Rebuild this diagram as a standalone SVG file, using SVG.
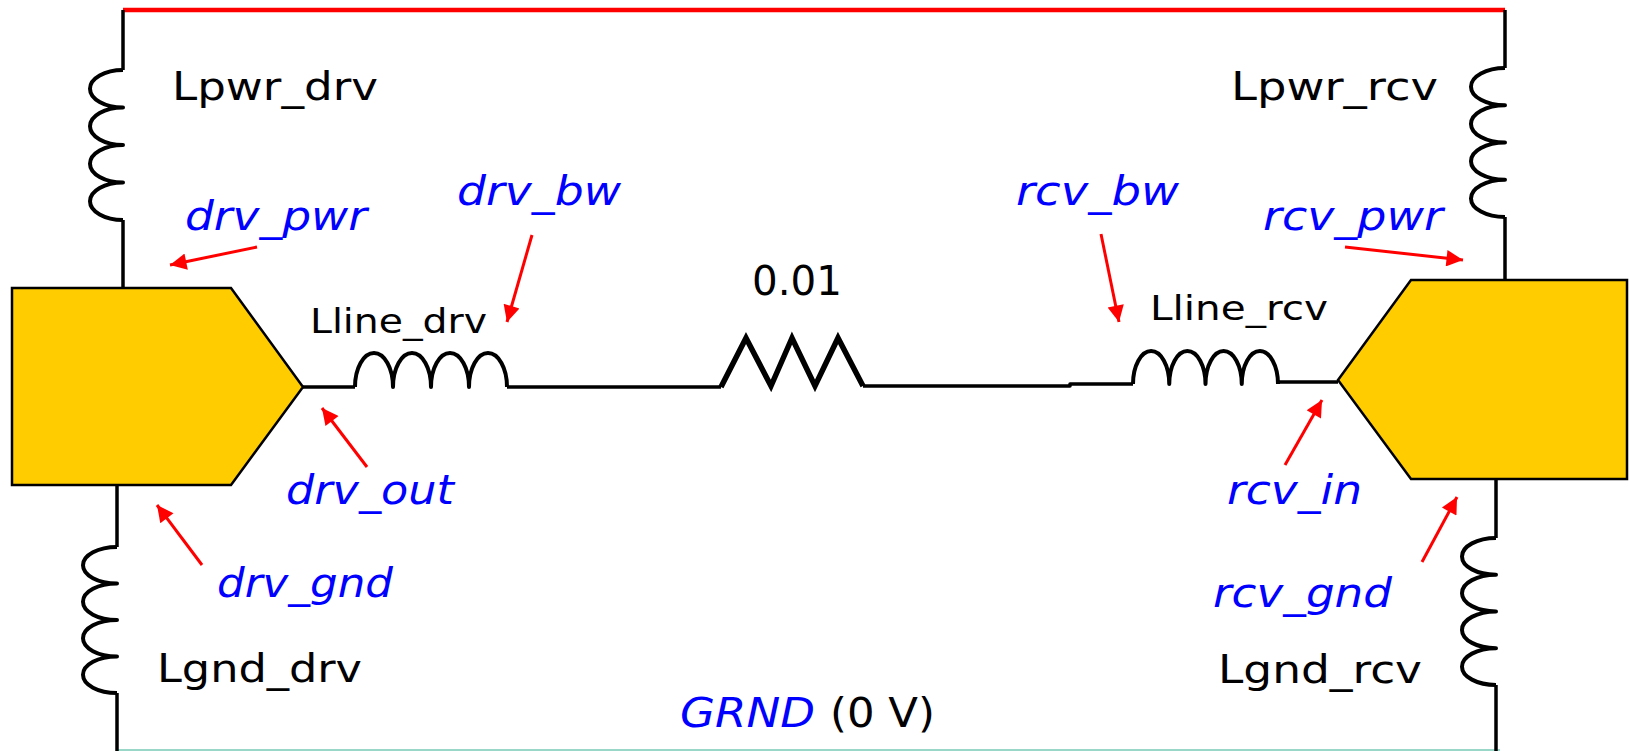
<svg xmlns="http://www.w3.org/2000/svg" width="1630" height="751" viewBox="0 0 1630 751">
<defs>
<style>
.w{fill:none;stroke:#000;stroke-width:3.5;stroke-linejoin:round}
.c{fill:none;stroke:#000;stroke-width:4;stroke-linejoin:round}
.r{fill:none;stroke:#000;stroke-width:5.5;stroke-linejoin:miter}
.pwr{fill:none;stroke:#ff0000;stroke-width:4.5}
.gnd{fill:none;stroke:#99d8c9;stroke-width:2}
.blk{fill:#ffcc00;stroke:#000;stroke-width:2.5}
.ar{fill:none;stroke:#ff0000;stroke-width:3}
.lb{font-family:"DejaVu Sans",Verdana,sans-serif;fill:#000}
.nl{font-family:"DejaVu Sans",Verdana,sans-serif;font-style:italic;fill:#0000ff}
</style>
<marker id="ah" viewBox="0 0 10 10" refX="10" refY="5" markerWidth="6.5" markerHeight="5.5" markerUnits="strokeWidth" orient="auto">
<path d="M0,0 L10,5 L0,10 z" fill="#ff0000"/>
</marker>
</defs>
<g id="connectors">
<path class="pwr" d="M123,10 H1505"/>
<path class="gnd" d="M117,750 H1500"/>
<path class="w" d="M123,10 V70"/>
<path class="c" d="M123,70 A33,18.75 0 0 0 123,107.5 A33,18.75 0 0 0 123,145 A33,18.75 0 0 0 123,182.5 A33,18.75 0 0 0 123,220"/>
<path class="w" d="M123,220 V288"/>
<path class="w" d="M117,485 V547"/>
<path class="c" d="M117,547 A34,18.25 0 0 0 117,583.5 A34,18.25 0 0 0 117,620 A34,18.25 0 0 0 117,656.5 A34,18.25 0 0 0 117,693"/>
<path class="w" d="M117,693 V751"/>
<path class="w" d="M1505,10 V68"/>
<path class="c" d="M1505,68 A34,18.625 0 0 0 1505,105.25 A34,18.625 0 0 0 1505,142.5 A34,18.625 0 0 0 1505,179.75 A34,18.625 0 0 0 1505,217"/>
<path class="w" d="M1505,217 V280"/>
<path class="w" d="M1496,479 V538"/>
<path class="c" d="M1496,538 A34,18.375 0 0 0 1496,574.75 A34,18.375 0 0 0 1496,611.5 A34,18.375 0 0 0 1496,648.25 A34,18.375 0 0 0 1496,685"/>
<path class="w" d="M1496,685 V751"/>
<path class="w" d="M303,387 H355"/>
<path class="c" d="M355,387 A19,34 0 0 1 393,387 A19,34 0 0 1 431,387 A19,34 0 0 1 469,387 A19,34 0 0 1 507,387"/>
<path class="w" d="M507,387 H721"/>
<path class="r" d="M721,387 L746,338 L771,386 L792,338 L815,386 L838,338 L863,386"/>
<path class="w" d="M863,386 H1070 V384 H1133"/>
<path class="c" d="M1133,384 A18.125,33 0 0 1 1169.25,384 A18.125,33 0 0 1 1205.5,384 A18.125,33 0 0 1 1241.75,384 A18.125,33 0 0 1 1278,384"/>
<path class="w" d="M1278,384 V382 H1338"/>
<path class="ar" marker-end="url(#ah)" d="M257,247 L170,265"/>
<path class="ar" marker-end="url(#ah)" d="M532,235 L507,322"/>
<path class="ar" marker-end="url(#ah)" d="M367,467 L322,408"/>
<path class="ar" marker-end="url(#ah)" d="M202,565 L157,505"/>
<path class="ar" marker-end="url(#ah)" d="M1345,247 L1463,260"/>
<path class="ar" marker-end="url(#ah)" d="M1101,234 L1119,322"/>
<path class="ar" marker-end="url(#ah)" d="M1285,465 L1322,400"/>
<path class="ar" marker-end="url(#ah)" d="M1422,562 L1457,497"/>
</g>
<g id="driver">
<polygon class="blk" points="12,288 231,288 303,387 231,485 12,485"/>
</g>
<g id="receiver">
<polygon class="blk" points="1411,280 1627,280 1627,479 1411,479 1338,380"/>
</g>
<g id="labels">
<text class="lb" x="172" y="100" font-size="39" textLength="206" lengthAdjust="spacingAndGlyphs">Lpwr_drv</text>
<text class="lb" x="1231" y="100" font-size="39" textLength="207" lengthAdjust="spacingAndGlyphs">Lpwr_rcv</text>
<text class="lb" x="157" y="682" font-size="39" textLength="205" lengthAdjust="spacingAndGlyphs">Lgnd_drv</text>
<text class="lb" x="1218" y="683" font-size="39" textLength="204" lengthAdjust="spacingAndGlyphs">Lgnd_rcv</text>
<text class="lb" x="310" y="333" font-size="34" textLength="177" lengthAdjust="spacingAndGlyphs">Lline_drv</text>
<text class="lb" x="1150" y="320" font-size="34" textLength="178" lengthAdjust="spacingAndGlyphs">Lline_rcv</text>
<text class="lb" x="752" y="295" font-size="41" textLength="90" lengthAdjust="spacingAndGlyphs">0.01</text>
<text class="nl" x="185" y="230" font-size="40" textLength="182" lengthAdjust="spacingAndGlyphs">drv_pwr</text>
<text class="nl" x="457" y="205" font-size="40" textLength="164" lengthAdjust="spacingAndGlyphs">drv_bw</text>
<text class="nl" x="286" y="504" font-size="40" textLength="168" lengthAdjust="spacingAndGlyphs">drv_out</text>
<text class="nl" x="217" y="597" font-size="40" textLength="176" lengthAdjust="spacingAndGlyphs">drv_gnd</text>
<text class="nl" x="1263" y="230" font-size="40" textLength="180" lengthAdjust="spacingAndGlyphs">rcv_pwr</text>
<text class="nl" x="1016" y="205" font-size="40" textLength="163" lengthAdjust="spacingAndGlyphs">rcv_bw</text>
<text class="nl" x="1227" y="504" font-size="40" textLength="135" lengthAdjust="spacingAndGlyphs">rcv_in</text>
<text class="nl" x="1213" y="607" font-size="40" textLength="179" lengthAdjust="spacingAndGlyphs">rcv_gnd</text>
<text class="nl" x="680" y="727" font-size="41" textLength="135" lengthAdjust="spacingAndGlyphs">GRND</text>
<text class="lb" x="830" y="727" font-size="41" textLength="105" lengthAdjust="spacingAndGlyphs">(0 V)</text>
</g>
</svg>
